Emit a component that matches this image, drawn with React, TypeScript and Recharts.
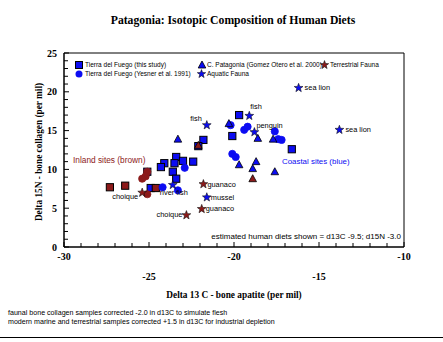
import React from "react";
import {
  ScatterChart,
  Scatter,
  XAxis,
  YAxis,
  ReferenceArea,
  Legend,
} from "recharts";

// ---------------- DATA ----------------
type Site = "coastal" | "inland";
type Pt = { d13c: number; d15n: number; site: Site };
type Fauna = { d13c: number; d15n: number; name: string };

// Tierra del Fuego (this study) - squares
const tdfThisStudy: Pt[] = [
  { d13c: -19.7, d15n: 17.0, site: "coastal" },
  { d13c: -20.1, d15n: 14.3, site: "coastal" },
  { d13c: -21.8, d15n: 13.8, site: "coastal" },
  { d13c: -22.1, d15n: 13.0, site: "coastal" },
  { d13c: -23.4, d15n: 11.6, site: "coastal" },
  { d13c: -23.0, d15n: 11.1, site: "coastal" },
  { d13c: -22.4, d15n: 11.0, site: "coastal" },
  { d13c: -24.1, d15n: 10.8, site: "coastal" },
  { d13c: -23.5, d15n: 10.8, site: "coastal" },
  { d13c: -24.3, d15n: 10.3, site: "coastal" },
  { d13c: -25.1, d15n: 9.7, site: "coastal" },
  { d13c: -23.6, d15n: 9.7, site: "coastal" },
  { d13c: -23.4, d15n: 8.8, site: "coastal" },
  { d13c: -24.9, d15n: 7.6, site: "coastal" },
  { d13c: -16.6, d15n: 12.6, site: "coastal" },
  { d13c: -27.3, d15n: 7.7, site: "inland" },
  { d13c: -26.4, d15n: 7.9, site: "inland" },
  { d13c: -24.6, d15n: 7.6, site: "inland" },
];

// Tierra del Fuego (Yesner et al. 1991) - circles
const tdfYesner: Pt[] = [
  { d13c: -20.2, d15n: 15.7, site: "coastal" },
  { d13c: -19.4, d15n: 15.1, site: "coastal" },
  { d13c: -19.2, d15n: 15.5, site: "coastal" },
  { d13c: -20.1, d15n: 12.0, site: "coastal" },
  { d13c: -19.9, d15n: 11.6, site: "coastal" },
  { d13c: -17.6, d15n: 14.9, site: "coastal" },
  { d13c: -17.4, d15n: 13.9, site: "coastal" },
  { d13c: -17.2, d15n: 13.8, site: "coastal" },
  { d13c: -22.9, d15n: 10.2, site: "coastal" },
  { d13c: -24.2, d15n: 7.7, site: "coastal" },
  { d13c: -23.3, d15n: 7.3, site: "coastal" },
  { d13c: -25.1, d15n: 9.7, site: "inland" },
  { d13c: -25.2, d15n: 9.1, site: "inland" },
  { d13c: -25.4, d15n: 8.8, site: "inland" },
  { d13c: -25.1, d15n: 6.8, site: "inland" },
];

// C. Patagonia (Gomez Otero et al. 2000) - triangles
const cPatagonia: Pt[] = [
  { d13c: -23.3, d15n: 13.9, site: "coastal" },
  { d13c: -20.3, d15n: 15.9, site: "coastal" },
  { d13c: -19.7, d15n: 10.6, site: "coastal" },
  { d13c: -18.9, d15n: 10.1, site: "coastal" },
  { d13c: -18.7, d15n: 11.0, site: "coastal" },
  { d13c: -18.6, d15n: 14.0, site: "coastal" },
  { d13c: -17.7, d15n: 13.9, site: "coastal" },
  { d13c: -17.6, d15n: 9.7, site: "coastal" },
  { d13c: -22.1, d15n: 13.1, site: "inland" },
  { d13c: -18.9, d15n: 8.8, site: "inland" },
];

const aquaticFauna: Fauna[] = [
  { d13c: -16.2, d15n: 20.5, name: "sea lion" },
  { d13c: -13.8, d15n: 15.1, name: "sea lion" },
  { d13c: -19.1, d15n: 16.9, name: "fish" },
  { d13c: -18.8, d15n: 14.8, name: "penguin" },
  { d13c: -21.6, d15n: 15.7, name: "fish" },
  { d13c: -21.6, d15n: 6.4, name: "mussel" },
  { d13c: -23.6, d15n: 8.0, name: "river fish" },
];

const terrestrialFauna: Fauna[] = [
  { d13c: -21.8, d15n: 8.1, name: "guanaco" },
  { d13c: -21.9, d15n: 4.9, name: "guanaco" },
  { d13c: -22.8, d15n: 4.1, name: "choique" },
  { d13c: -25.4, d15n: 7.0, name: "choique" },
];

const xTicks = [
  -30, -29, -28, -27, -26, -25, -24, -23, -22, -21, -20, -19, -18, -17, -16,
  -15, -14, -13, -12, -11, -10,
];
const yTicks = [
  0, 1, 2, 3, 4, 5, 6, 7, 8, 9, 10, 11, 12, 13, 14, 15, 16, 17, 18, 19, 20,
  21, 22, 23, 24, 25,
];

const titleText = "Patagonia: Isotopic Composition of Human Diets";
const xLabelText = "Delta 13 C - bone apatite (per mil)";
const yLabelText = "Delta 15N - bone collagen (per mil)";
const inlandNote = "Inland sites (brown)";
const coastalNote = "Coastal sites (blue)";
const dietNote = "estimated human diets shown = d13C -9.5; d15N -3.0";
const footnotes = [
  "faunal bone collagen samples corrected -2.0 in d13C to simulate flesh",
  "modern marine and terrestrial samples corrected +1.5 in d13C for industrial depletion",
];
const legendNames = {
  thisStudy: "Tierra del Fuego (this study)",
  yesner: "Tierra del Fuego (Yesner et al. 1991)",
  patagonia: "C. Patagonia (Gomez Otero et al. 2000)",
  terrestrial: "Terrestrial Fauna",
  aquatic: "Aquatic Fauna",
};

// ---------------- STYLE ----------------
const BLUE = "#0c0cf2";
const BROWN = "#8c1a1a";
const SERIF = "'Liberation Serif', 'Times New Roman', serif";
const SANS = "'Liberation Sans', Arial, sans-serif";

const colorOf = (s: Site) => (s === "inland" ? BROWN : BLUE);

// label placements for fauna labels (in the order of the arrays)
const aquaticLabelPos = [
  { dx: 6, dy: 2.5, anchor: "start" },
  { dx: 6, dy: 2.5, anchor: "start" },
  { dx: 1, dy: -7, anchor: "start" },
  { dx: 2, dy: -4, anchor: "start" },
  { dx: -5, dy: -4, anchor: "end" },
  { dx: 4, dy: 2.5, anchor: "start" },
  { dx: 1, dy: 10, anchor: "middle" },
];
const terrestrialLabelPos = [
  { dx: 4, dy: 2.5, anchor: "start" },
  { dx: 4, dy: 2.5, anchor: "start" },
  { dx: -4, dy: 1.5, anchor: "end" },
  { dx: -4, dy: 6, anchor: "end" },
];

const starPath = (cx: number, cy: number, ro: number, ri: number) => {
  let d = "";
  for (let i = 0; i < 10; i++) {
    const r = i % 2 === 0 ? ro : ri;
    const a = -Math.PI / 2 + (i * Math.PI) / 5;
    d += (i === 0 ? "M" : "L") + (cx + r * Math.cos(a)).toFixed(2) + "," + (cy + r * Math.sin(a)).toFixed(2);
  }
  return d + "Z";
};

const SquareShape = (p: any) => (
  <rect
    x={p.cx - 3.6}
    y={p.cy - 3.6}
    width={7.2}
    height={7.2}
    fill={colorOf(p.payload.site)}
    stroke="#000"
    strokeWidth={1}
  />
);
const CircleShape = (p: any) => (
  <ellipse
    cx={p.cx}
    cy={p.cy}
    rx={3.6}
    ry={3.6}
    fill={colorOf(p.payload.site)}
    stroke={colorOf(p.payload.site)}
    strokeWidth={0.8}
  />
);
const TriangleShape = (p: any) => (
  <path
    d={`M${p.cx},${p.cy - 4}L${p.cx + 3.8},${p.cy + 3}L${p.cx - 3.8},${p.cy + 3}Z`}
    fill={colorOf(p.payload.site)}
    stroke="#000"
    strokeWidth={0.8}
  />
);

const makeStarShape = (fill: string, positions: any[]) => (p: any) => {
  const pos = positions[p.index] || { dx: 4, dy: 2.5, anchor: "start" };
  return (
    <g>
      <path d={starPath(p.cx, p.cy, 4.6, 1.9)} fill={fill} stroke="#111" strokeWidth={0.6} />
      <text
        x={p.cx + pos.dx}
        y={p.cy + pos.dy}
        textAnchor={pos.anchor}
        fontFamily={SANS}
        fontSize={7.4}
        fill="#000"
      >
        {p.payload.name}
      </text>
    </g>
  );
};

const XTick = (p: any) => {
  const v = p.payload.value;
  const major = v % 5 === 0;
  const secondRow = major && Math.abs(v / 5) % 2 === 1;
  return (
    <g>
      <line x1={p.x} x2={p.x} y1={p.y} y2={p.y - (major ? 5 : 4)} stroke="#000" strokeWidth={1} />
      {major && (
        <text
          x={p.x}
          y={p.y + (secondRow ? 33 : 13)}
          textAnchor="middle"
          fontFamily={SERIF}
          fontWeight="bold"
          fontSize={10}
          fill="#000"
        >
          {v}
        </text>
      )}
    </g>
  );
};

const YTick = (p: any) => {
  const v = p.payload.value;
  const major = v % 5 === 0;
  return (
    <g>
      <line x1={p.x} x2={p.x + (major ? 5 : 4)} y1={p.y} y2={p.y} stroke="#000" strokeWidth={1} />
      {major && (
        <text
          x={p.x - 7}
          y={p.y + 3.5}
          textAnchor="end"
          fontFamily={SERIF}
          fontWeight="bold"
          fontSize={10}
          fill="#000"
        >
          {v}
        </text>
      )}
    </g>
  );
};

const LegendContent = () => (
  <div style={{ position: "relative", height: 0, width: 0 }}>
    <svg
      width={443}
      height={100}
      style={{ position: "absolute", left: 0, top: 0, overflow: "visible" }}
    >
      <g fontFamily={SANS} fontSize={6.5} fill="#000">
        <rect x={75.5} y={61.5} width={7} height={7} fill={BLUE} stroke="#000" />
        <text x={85} y={67.3}>{legendNames.thisStudy}</text>
        <circle cx={79} cy={74} r={3.5} fill={BLUE} />
        <text x={85} y={76.3}>{legendNames.yesner}</text>
        <path d="M202,61L205.8,68L198.2,68Z" fill={BLUE} stroke="#000" strokeWidth={0.8} />
        <text x={207} y={67.3}>{legendNames.patagonia}</text>
        <path d={starPath(201.5, 74, 4.4, 1.8)} fill={BLUE} stroke="#111" strokeWidth={0.6} />
        <text x={207} y={76.3}>{legendNames.aquatic}</text>
        <path d={starPath(324.5, 65, 4.4, 1.8)} fill={BROWN} stroke="#111" strokeWidth={0.6} />
        <text x={330} y={67.3}>{legendNames.terrestrial}</text>
      </g>
    </svg>
  </div>
);

export default function App() {
  return (
    <div
      style={{
        position: "absolute",
        left: 0,
        top: 0,
        width: 443,
        height: 342,
        background: "#fff",
        overflow: "hidden",
      }}
    >
      <ScatterChart
        width={443}
        height={342}
        margin={{ top: 53, right: 39, bottom: 65, left: 34 }}
      >
        <XAxis
          type="number"
          dataKey="d13c"
          domain={[-30, -10]}
          ticks={xTicks}
          interval={0}
          tickLine={false}
          tickSize={0}
          tickMargin={0}
          tick={<XTick />}
          axisLine={{ stroke: "#000", strokeWidth: 1 }}
          height={30}
          allowDataOverflow
          label={{
            content: () => (
              <text
                x={234}
                y={298}
                textAnchor="middle"
                fontFamily={SERIF}
                fontWeight="bold"
                fontSize={9.3}
                fill="#000"
              >
                {xLabelText}
              </text>
            ),
          }}
        />
        <YAxis
          type="number"
          dataKey="d15n"
          domain={[0, 25]}
          ticks={yTicks}
          interval={0}
          tickLine={false}
          tickSize={0}
          tickMargin={0}
          tick={<YTick />}
          axisLine={{ stroke: "#000", strokeWidth: 1 }}
          width={30}
          allowDataOverflow
          label={{
            content: () => (
              <text
                x={42}
                y={152}
                transform="rotate(-90 42 152)"
                textAnchor="middle"
                fontFamily={SERIF}
                fontWeight="bold"
                fontSize={9.3}
                fill="#000"
              >
                {yLabelText}
              </text>
            ),
          }}
        />
        <ReferenceArea
          x1={-30}
          x2={-10}
          y1={0}
          y2={25}
          fill="none"
          stroke="#000"
          strokeWidth={1}
          ifOverflow="extendDomain"
        />
        <Legend
          verticalAlign="top"
          content={<LegendContent />}
          wrapperStyle={{ position: "absolute", left: 0, top: 0, width: 0, height: 0 }}
        />
        <Scatter
          name={legendNames.thisStudy}
          data={tdfThisStudy}
          shape={SquareShape}
          isAnimationActive={false}
        />
        <Scatter
          name={legendNames.yesner}
          data={tdfYesner}
          shape={CircleShape}
          isAnimationActive={false}
        />
        <Scatter
          name={legendNames.patagonia}
          data={cPatagonia}
          shape={TriangleShape}
          isAnimationActive={false}
        />
        <Scatter
          name={legendNames.terrestrial}
          data={terrestrialFauna}
          shape={makeStarShape(BROWN, terrestrialLabelPos)}
          isAnimationActive={false}
        />
        <Scatter
          name={legendNames.aquatic}
          data={aquaticFauna}
          shape={makeStarShape(BLUE, aquaticLabelPos)}
          isAnimationActive={false}
        />
      </ScatterChart>
      <svg
        width={443}
        height={342}
        style={{ position: "absolute", left: 0, top: 0, pointerEvents: "none" }}
      >
        <text
          x={233}
          y={24}
          textAnchor="middle"
          fontFamily={SERIF}
          fontWeight="bold"
          fontSize={11.7}
          fill="#000"
        >
          {titleText}
        </text>
        <text x={73} y={163} fontFamily={SANS} fontSize={8.3} fill={BROWN}>
          {inlandNote}
        </text>
        <text x={282} y={164} fontFamily={SANS} fontSize={7.9} fill={BLUE}>
          {coastalNote}
        </text>
        <text x={401} y={239} textAnchor="end" fontFamily={SANS} fontSize={8} fill="#000">
          {dietNote}
        </text>
        <text x={8} y={315} fontFamily={SANS} fontSize={7.1} fill="#000">
          {footnotes[0]}
        </text>
        <text x={8} y={324} fontFamily={SANS} fontSize={7.1} fill="#000">
          {footnotes[1]}
        </text>
        <line x1={0} x2={443} y1={337.5} y2={337.5} stroke="#000" strokeWidth={1} />
      </svg>
    </div>
  );
}
